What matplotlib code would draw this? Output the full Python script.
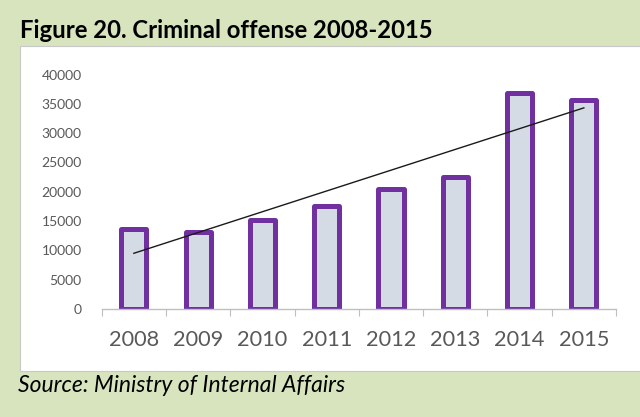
import numpy as np
import matplotlib
matplotlib.use("Agg")
import matplotlib.pyplot as plt
from matplotlib.patches import Rectangle

years = ["2008", "2009", "2010", "2011", "2012", "2013", "2014", "2015"]
offenses = [13700, 13050, 15220, 17650, 20550, 22600, 36800, 35680]
y_ticks = [0, 5000, 10000, 15000, 20000, 25000, 30000, 35000, 40000]

title = "Figure 20. Criminal offense 2008-2015"
source = "Source: Ministry of Internal Affairs"

W, H = 640, 417
fig = plt.figure(figsize=(W / 100, H / 100), dpi=100)
fig.patch.set_facecolor("#D7E4BD")

# white chart panel
panel = Rectangle((20 / W, 1 - 371 / H), 1 - 20 / W + 0.01, (371 - 46) / H,
                  transform=fig.transFigure, facecolor="white",
                  edgecolor="#C8C8C8", linewidth=0.8, zorder=-10)
fig.patches.append(panel)

ax = fig.add_axes([101.7 / W, 1 - 309 / H, (616 - 101.7) / W, (309 - 74.5) / H])
ax.set_zorder(1)
ax.set_facecolor("none")

x = np.arange(len(years))
ax.bar(x, offenses, width=0.39, color="#D5DBE5", edgecolor="#7030A0",
       linewidth=3.6, joinstyle="round", zorder=2)

# linear trendline
coef = np.polyfit(x, offenses, 1)
ax.plot(x[[0, -1]], np.polyval(coef, x[[0, -1]]), color="#1a1a1a",
        linewidth=1.0, zorder=3)

ax.set_xlim(-0.5, len(years) - 0.5)
ax.set_ylim(0, 40000)

for s in ["top", "right", "left"]:
    ax.spines[s].set_visible(False)
ax.spines["bottom"].set_color("#BFBFBF")
ax.spines["bottom"].set_linewidth(1.0)

ax.set_yticks(y_ticks)
ax.set_yticklabels([str(v) for v in y_ticks])
ax.tick_params(axis="y", length=0, pad=14.4, labelsize=10, labelcolor="#595959")
for lab in ax.get_yticklabels():
    lab.set_fontfamily("Lato")

ax.set_xticks(x)
ax.set_xticklabels(years)
ax.tick_params(axis="x", which="major", length=0, pad=15, labelsize=15.7,
               labelcolor="#595959")
for lab in ax.get_xticklabels():
    lab.set_fontfamily("Lato")
ax.set_xticks(np.arange(len(years) + 1) - 0.5, minor=True)
ax.tick_params(axis="x", which="minor", length=5.3, width=0.8, color="#BFBFBF",
               direction="out")

fig.text(20 / W, 1 - 38.3 / H, title, fontsize=17.2, fontweight="bold",
         family="Lato", color="black", va="baseline", ha="left")
fig.text(18 / W, 1 - 392 / H, source, fontsize=16.5, style="italic",
         family="Lato", color="black", va="baseline", ha="left")

fig.savefig("out.png", dpi=100, facecolor=fig.get_facecolor())
